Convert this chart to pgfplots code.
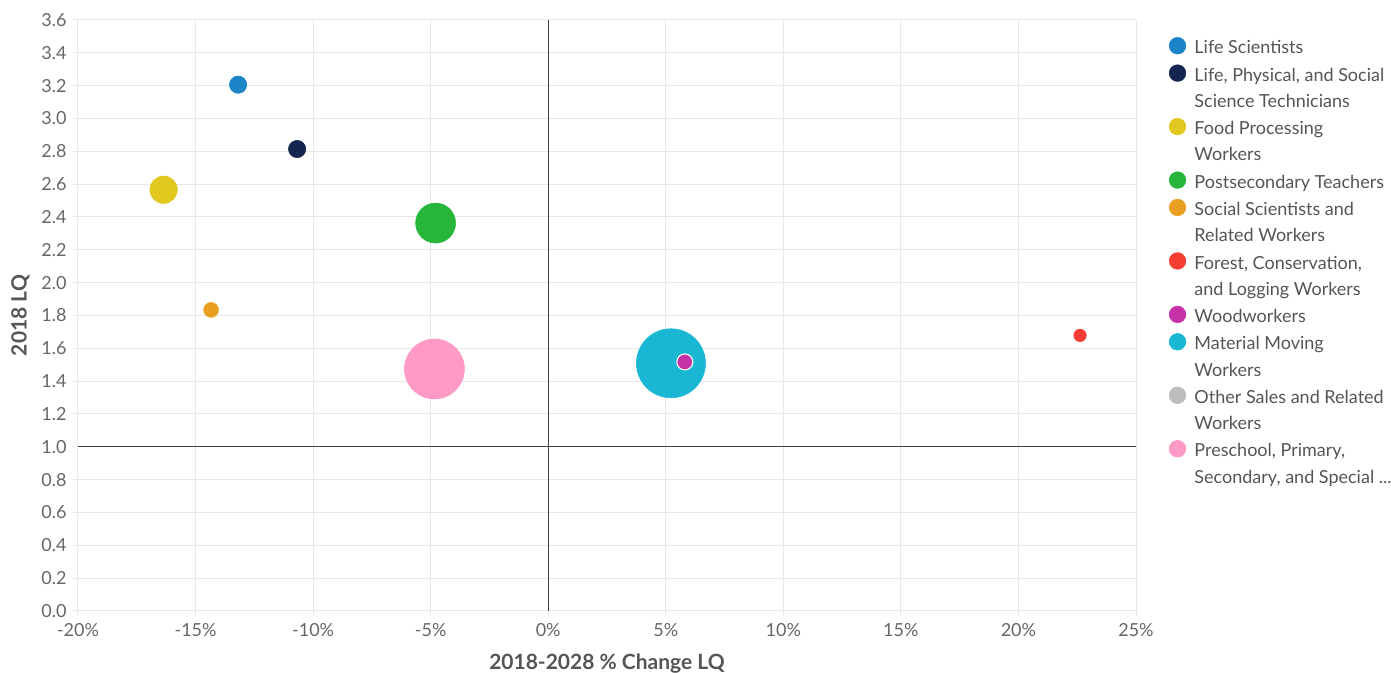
\documentclass[border=0pt]{standalone}
\usepackage{fontspec}
\setmainfont{Lato}
\usepackage{pgfplots}
\pgfplotsset{compat=1.18}
\definecolor{cLS}{HTML}{1A84C7}
\definecolor{cTech}{HTML}{14264F}
\definecolor{cFood}{HTML}{E0C81E}
\definecolor{cPost}{HTML}{28B63A}
\definecolor{cSoc}{HTML}{E89F22}
\definecolor{cFor}{HTML}{F53D31}
\definecolor{cWood}{HTML}{C731A7}
\definecolor{cMat}{HTML}{19B7D4}
\definecolor{cOth}{HTML}{BDBDBD}
\definecolor{cPre}{HTML}{FF99C5}
\definecolor{gridc}{HTML}{E8E8E8}
\definecolor{tickc}{HTML}{666666}
\definecolor{labc}{HTML}{555555}
\pgfplotsset{
  leg1/.style={legend image code/.code={\fill (0pt,0pt) circle (6.25pt); \path (12.5pt,0pt);}},
  leg2/.style={legend image code/.code={\fill (0pt,9.8pt) circle (6.25pt); \path (12.5pt,-16.05pt) (0pt,16.05pt);}},
}
\begin{document}
\begin{tikzpicture}
\begin{axis}[
  scale only axis,
  width=793.5pt, height=443.25pt,
  xmin=-20, xmax=25, ymin=0, ymax=3.6,
  xtick={-20,-15,...,25},
  ytick={0,0.2,...,3.61},
  xticklabel={\pgfmathprintnumber{\tick}\%},
  yticklabel style={/pgf/number format/fixed, /pgf/number format/fixed zerofill, /pgf/number format/precision=1, xshift=-1pt},
  /pgf/number format/assume math mode=true,
  axis line style={draw=none},
  grid=major,
  grid style={gridc, line width=0.75pt},
  major tick style={gridc, line width=0.75pt},
  major tick length=4pt,
  tick pos=left,
  tick align=outside,
  ticklabel style={font=\fontsize{13.5}{16}\selectfont, text=tickc},
  xticklabel style={yshift=-2pt},
  xlabel={2018-2028 \% Change LQ},
  ylabel={2018 LQ},
  label style={font=\fontsize{15.75}{18}\selectfont\bfseries, text=labc},
  xlabel style={yshift=-6pt},
  ylabel style={yshift=2pt},
  leg1,
  legend style={at={(1,1)}, anchor=north west, xshift=21.5pt, yshift=-9.5pt,
    draw=none, fill=none, row sep=5.3pt,
    font=\fontsize{13.5}{19.6}\selectfont,
    text=labc,
    cells={align=left},
    nodes={inner sep=0pt}},
  legend cell align=left,
]
\draw[black!75, line width=0.75pt] (axis cs:0,0) -- (axis cs:0,3.6);
\draw[black!75, line width=0.75pt] (axis cs:-20,1) -- (axis cs:25,1);
\addplot[only marks, mark=*, color=cLS, mark size=6.5pt, leg1] coordinates {(-13.19,3.206)};
\addlegendentry{\strut Life Scientists}
\addplot[only marks, mark=*, color=cTech, mark size=6.5pt, leg2] coordinates {(-10.68,2.814)};
\addlegendentry{\strut Life, Physical, and Social\\\strut Science Technicians}
\addplot[only marks, mark=*, color=cFood, mark size=10.3pt, leg2] coordinates {(-16.36,2.566)};
\addlegendentry{\strut Food Processing\\\strut Workers}
\addplot[only marks, mark=*, color=cPost, mark size=15pt, leg1] coordinates {(-4.79,2.363)};
\addlegendentry{\strut Postsecondary Teachers}
\addplot[only marks, mark=*, color=cSoc, mark size=5.6pt, leg2] coordinates {(-14.34,1.834)};
\addlegendentry{\strut Social Scientists and\\\strut Related Workers}
\addplot[only marks, mark=*, color=cFor, mark size=4.7pt, leg2] coordinates {(22.62,1.679)};
\addlegendentry{\strut Forest, Conservation,\\\strut and Logging Workers}
\addlegendimage{only marks, mark=*, color=cWood, leg1}
\addlegendentry{\strut Woodworkers}
\addplot[only marks, mark=*, color=cMat, mark size=25.9pt, leg2] coordinates {(5.22,1.509)};
\addlegendentry{\strut Material Moving\\\strut Workers}
\addplot[only marks, mark=*, color=cWood, mark size=6pt, mark options={draw=white, line width=0.8pt, fill=cWood}, forget plot] coordinates {(5.81,1.517)};
\addlegendimage{only marks, mark=*, color=cOth, leg2}
\addlegendentry{\strut Other Sales and Related\\\strut Workers}
\addplot[only marks, mark=*, color=cPre, mark size=22.5pt, leg2] coordinates {(-4.84,1.474)};
\addlegendentry{\strut Preschool, Primary,\\\strut Secondary, and Special ...}
\end{axis}
\pgfresetboundingbox
\useasboundingbox (-58.5pt,-46.5pt) rectangle (984.75pt,458.25pt);
\end{tikzpicture}
\end{document}
